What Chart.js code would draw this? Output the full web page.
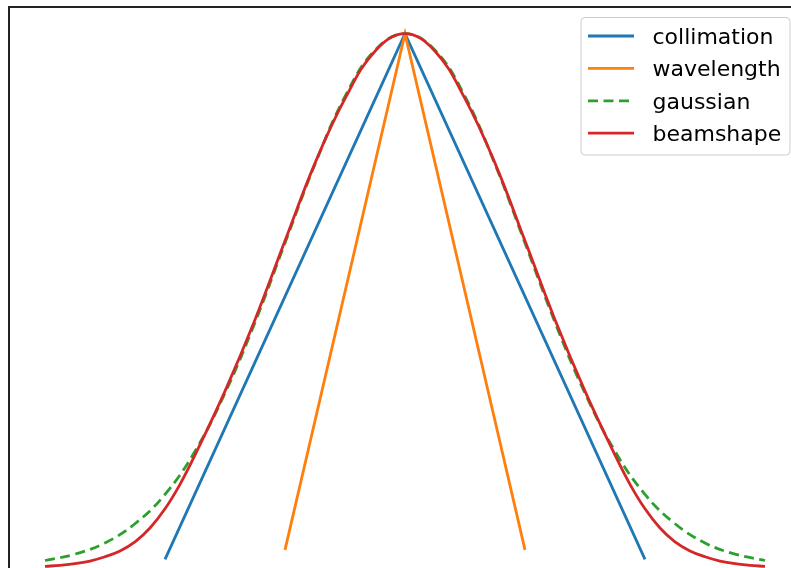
<!DOCTYPE html>
<html>
<head>
<meta charset="utf-8">
<script src="https://cdn.jsdelivr.net/npm/chart.js@4/dist/chart.umd.min.js"></script>
<style>
  html, body { margin: 0; padding: 0; background: #fff; overflow: hidden; }
  #wrap { position: absolute; left: 0; top: 0; width: 810px; height: 600px; }
</style>
</head>
<body>
<div id="wrap"><canvas id="beam" width="810" height="600"></canvas></div>
<script>
// gaussian profile samples
const gaussianX = [-3, -2.75, -2.5, -2.25, -2, -1.75, -1.5, -1.25, -1, -0.75, -0.5, -0.25, 0,
                   0.25, 0.5, 0.75, 1, 1.25, 1.5, 1.75, 2, 2.25, 2.5, 2.75, 3];
const gaussianY = [0.011, 0.023, 0.044, 0.080, 0.135, 0.216, 0.325, 0.458, 0.607, 0.755, 0.882, 0.969, 1.000,
                   0.969, 0.882, 0.755, 0.607, 0.458, 0.325, 0.216, 0.135, 0.080, 0.044, 0.023, 0.011];

// combined beam shape, sampled a bit denser in the tails
const beamshapeX = [-3, -2.875, -2.75, -2.625, -2.5, -2.375, -2.25, -2.125, -2, -1.875, -1.75, -1.5, -1.25, -1,
                    -0.75, -0.5, -0.25, 0, 0.25, 0.5, 0.75, 1, 1.25, 1.5, 1.75, 1.875, 2, 2.125, 2.25, 2.375,
                    2.5, 2.625, 2.75, 2.875, 3];
const beamshapeY = [0.000, 0.002, 0.005, 0.010, 0.018, 0.029, 0.046, 0.072, 0.108, 0.154, 0.209, 0.329, 0.463, 0.611,
                    0.757, 0.878, 0.967, 1.000, 0.967, 0.878, 0.757, 0.611, 0.463, 0.329, 0.209, 0.154, 0.108, 0.072,
                    0.046, 0.029, 0.018, 0.010, 0.005, 0.002, 0.000];

// triangular contributions
const collimationX = [-2.0, 0, 2.0];
const collimationY = [0.013, 1.0, 0.013];
const wavelengthX = [-1.0, 0, 1.0];
const wavelengthY = [0.031, 1.0, 0.031];

const labels = ['collimation', 'wavelength', 'gaussian', 'beamshape'];
const colors = ['#1f77b4', '#ff7f0e', '#2ca02c', '#d62728'];
const LW = 2.8;
const DASH = [10, 5.5];

const pts = (xs, ys) => xs.map((x, i) => ({ x, y: ys[i] }));

// axes box like a plain matplotlib frame
const framePlugin = {
  id: 'frame',
  afterDatasetsDraw(chart) {
    const { ctx, chartArea: a } = chart;
    ctx.save();
    ctx.strokeStyle = '#222';
    ctx.lineWidth = 2;
    ctx.strokeRect(a.left, a.top, a.right - a.left, a.bottom - a.top);
    ctx.restore();
  }
};

// upper-right legend box
const legendPlugin = {
  id: 'boxLegend',
  afterDraw(chart) {
    const ctx = chart.ctx;
    const a = chart.chartArea;
    const fs = 22;
    const right = a.right - 11, top = a.top + 10.5;
    const left = 581, bottom = 155;
    ctx.save();
    ctx.beginPath();
    ctx.roundRect(left, top, right - left, bottom - top, 4);
    ctx.fillStyle = 'rgba(255,255,255,0.8)';
    ctx.fill();
    ctx.strokeStyle = '#cccccc';
    ctx.lineWidth = 1;
    ctx.stroke();
    ctx.font = fs + 'px "DejaVu Sans"';
    ctx.textBaseline = 'alphabetic';
    labels.forEach((lab, i) => {
      const y = 36 + 32.4 * i;
      ctx.beginPath();
      ctx.setLineDash(lab === 'gaussian' ? DASH : []);
      ctx.strokeStyle = colors[i];
      ctx.lineWidth = LW;
      ctx.moveTo(588, y);
      ctx.lineTo(634, y);
      ctx.stroke();
      ctx.setLineDash([]);
      ctx.fillStyle = '#000';
      ctx.fillText(lab, 652.5, y + 8);
    });
    ctx.restore();
  }
};

new Chart(document.getElementById('beam'), {
  type: 'line',
  data: {
    datasets: [
      { label: labels[0], data: pts(collimationX, collimationY), borderColor: colors[0], order: 4, tension: 0 },
      { label: labels[1], data: pts(wavelengthX, wavelengthY), borderColor: colors[1], order: 3, tension: 0 },
      { label: labels[2], data: pts(gaussianX, gaussianY), borderColor: colors[2], order: 2,
        borderDash: DASH, tension: 0.4 },
      { label: labels[3], data: pts(beamshapeX, beamshapeY), borderColor: colors[3], order: 1, tension: 0.4 }
    ].map(d => Object.assign({ borderWidth: LW, pointRadius: 0, fill: false }, d))
  },
  options: {
    responsive: false,
    animation: false,
    devicePixelRatio: 1,
    layout: { padding: { left: 9, top: 7, right: 9, bottom: 7 } },
    plugins: { legend: { display: false }, tooltip: { enabled: false } },
    scales: {
      x: { type: 'linear', min: -3.3, max: 3.3, display: false },
      y: { type: 'linear', min: -0.05, max: 1.05, display: false }
    }
  },
  plugins: [framePlugin, legendPlugin]
});
</script>
</body>
</html>
